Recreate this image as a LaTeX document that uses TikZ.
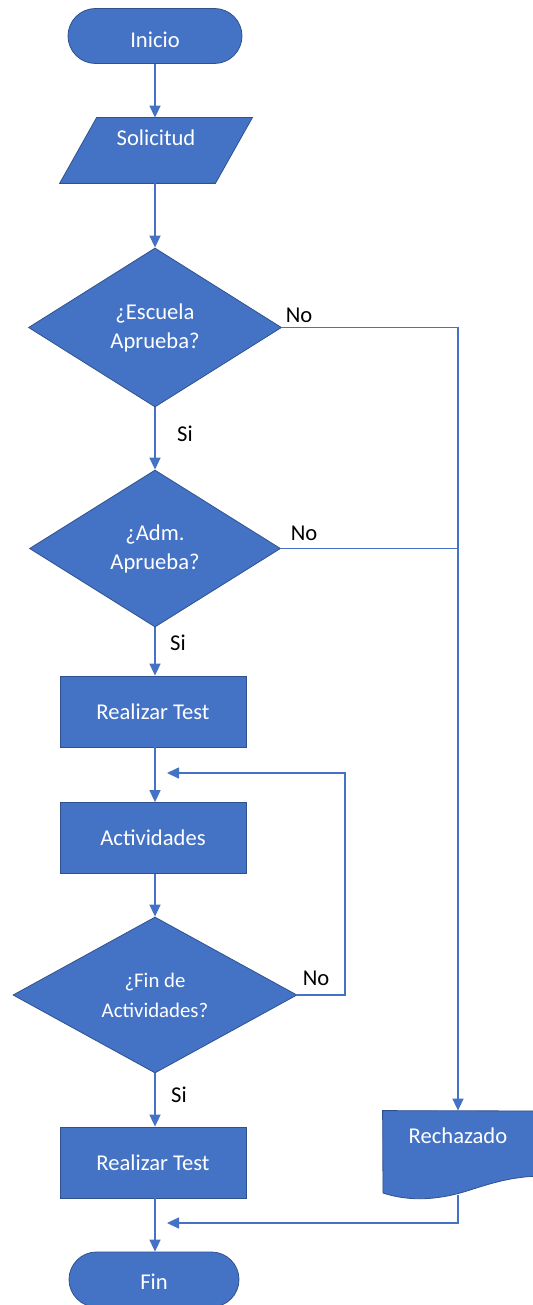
\documentclass[tikz,border=0pt]{standalone}
\usepackage{fontspec}
\setmainfont{Carlito}
\usetikzlibrary{shapes.geometric,arrows.meta,calc,backgrounds}
\definecolor{ofill}{HTML}{4472C4}
\definecolor{oline}{HTML}{2F528F}
\definecolor{conn}{HTML}{4472C4}
\begin{document}
\begin{tikzpicture}[x=0.5pt,y=-0.5pt,
  base/.style={fill=ofill, draw=oline, line width=0.4pt, text=white,
    font=\fontsize{11.3}{14.5}\selectfont, inner sep=0pt, align=center},
  term/.style={base, rectangle, rounded corners=13.75pt, minimum width=87pt, minimum height=27.5pt},
  proc/.style={base, rectangle, minimum width=93pt, minimum height=35.5pt},
  decision/.style={base, diamond, aspect=1.6},
  ghost/.style={rectangle, inner sep=0pt, text=white,
    font=\fontsize{11.3}{14.5}\selectfont, align=center},
  shapefill/.style={fill=ofill, draw=oline, line width=0.4pt},
  conn/.style={draw=conn, line width=0.8pt},
  arr/.style={conn, -{Triangle[width=5.5pt,length=6pt]}},
  lbl/.style={text=black, font=\fontsize{11.3}{13}\selectfont, inner sep=0pt}
]
\useasboundingbox (0,0) rectangle (533,1305);

% nodes
\node[term] (ini) at (155,36) {\smash{\raisebox{-5.6pt}{Inicio}}};
\node[ghost, minimum width=77.5pt, minimum height=32.5pt] (sol) at (156,150.5)
  {\smash{\raisebox{2.25pt}{Solicitud}}};
\node[decision, minimum width=126.5pt, minimum height=79.5pt] (d1) at (155,327.5)
  {¿Escuela\\Aprueba?};
\node[decision, minimum width=125.5pt, minimum height=78.5pt] (d2) at (155,548.5)
  {¿Adm.\\Aprueba?};
\node[proc] (rt1) at (153,711.5) {Realizar Test};
\node[proc] (act) at (153,838) {Actividades};
\node[decision, minimum width=142pt, minimum height=78pt,
  font=\fontsize{10.4}{15}\selectfont] (d3) at (155,995)
  {¿Fin de\\Actividades?};
\node[proc] (rt2) at (153,1162.5) {Realizar Test};
\node[term, minimum width=85pt] (fin) at (154,1279.5) {\smash{\raisebox{-4.9pt}{Fin}}};
\node[ghost, minimum width=75pt, minimum height=42pt] (rec) at (458,1153)
  {\smash{\raisebox{5pt}{Rechazado}}};

% custom shapes behind text
\begin{scope}[on background layer]
  \path[shapefill] ($(sol.south west)+(-18.5,0)$) -- ($(sol.south east)+(-18.5,0)$)
    -- ($(sol.north east)+(18.5,0)$) -- ($(sol.north west)+(18.5,0)$) -- cycle;
  \path[shapefill] (rec.north west) -- (545,1111) -- (545,1176)
    .. controls (515,1176) and (495,1182) .. (470,1190)
    .. controls (440,1200) and (410,1202) .. (383,1193) -- cycle;
\end{scope}

% labels
\node[lbl] (no1) at (299,315) {No};
\node[lbl] (si1) at (185,434) {Si};
\node[lbl] (no2) at (304,533) {No};
\node[lbl] (si2) at (178,643) {Si};
\node[lbl] (no3) at (316,978) {No};
\node[lbl] (si3) at (179,1095) {Si};

% free ends
\coordinate (lp) at (345,773);
\coordinate (lpend) at (167,773);
\coordinate (fe) at (167,1223);

% connectors
\draw[arr] (ini.south) -- (ini.south |- sol.north);
\draw[arr] (ini.south |- sol.south) -- (d1.north);
\draw[arr] (d1.south) -- (d2.north);
\draw[arr] (d2.south) -- (d2.south |- rt1.north);
\draw[arr] (d2.south |- rt1.south) -- (d2.south |- act.north);
\draw[arr] (d2.south |- act.south) -- (d3.north);
\draw[arr] (d3.south) -- (d3.south |- rt2.north);
\draw[arr] (d3.south |- rt2.south) -- (d3.south |- fin.north);
\draw[arr] (d1.east) -| (rec.north);
\draw[conn] (d2.east) -- (d2.east -| rec.north);
\draw[arr] (d3.east) -| (lp) -- (lpend);
\draw[arr] (rec.south) |- (fe);
\end{tikzpicture}
\end{document}
